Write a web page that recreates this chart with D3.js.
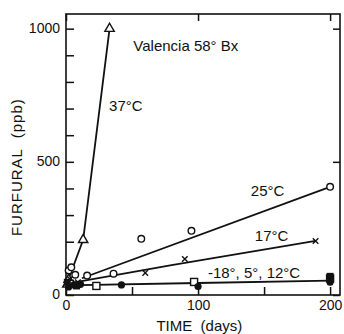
<!DOCTYPE html>
<html>
<head>
<meta charset="utf-8">
<script src="https://cdn.jsdelivr.net/npm/d3@7"></script>
<style>
body { margin: 0; background: #fff; }
text { font-family: "Liberation Sans", Arial, sans-serif; fill: #111; }
</style>
</head>
<body>
<svg></svg>
<script>
// readings from the figure: [days, ppb]
const tri37 = [[1, 40], [2, 58], [13, 207], [33, 1000]];
const fit37 = [[0, 28], [1, 49], [4.5, 94], [13, 207], [33, 1000]];
const circ25 = [[2, 92], [4, 104], [7, 76], [16, 73], [36, 80], [57, 211], [95, 241], [200, 406]];
const fit25 = [[12, 63], [200, 406]];
const cross17 = [[3, 60], [9, 48], [60, 83], [90, 135], [189, 203]];
const fit17 = [[0, 42], [80, 112], [189, 203]];
const sqOpen = [[3, 42], [23, 34], [97, 49], [200, 62]];
const dotFill = [[2, 30], [6, 38], [11, 40], [42, 38], [100, 32], [200, 48]];
const sqFill = [[1, 48], [8, 34], [200, 70]];
const fitLow = [[0, 36], [100, 45], [200, 54]];

const xMajor = [0, 100, 200];
const xMinor = [50, 150];
const yMajor = [0, 500, 1000];
const yMinor = [100, 200, 300, 400, 600, 700, 800, 900];

// text labels anchored at [days, ppb]
const notes = [
	{ t: "Valencia 58° Bx", d: 51, v: 931 },
	{ t: "37°C", d: 32.6, v: 706 },
	{ t: "25°C", d: 140, v: 387 },
	{ t: "17°C", d: 143, v: 218 },
	{ t: "-18°, 5°, 12°C", d: 107.5, v: 79 },
];

const margin = { t: 14, r: 4, b: 39, l: 66 };
const size = { w: 344, h: 334 };
const w = size.w - margin.l - margin.r;
const h = size.h - margin.t - margin.b;

const svg = d3.select("svg").attr("width", size.w).attr("height", size.h);
const g = svg.append("g").attr("transform", `translate(${margin.l},${margin.t})`);

const x = d3.scaleLinear().domain([0, 207.5]).range([0, w]);
const y = d3.scaleLinear().domain([0, 1055]).range([h, 0]);

// frame
g.append("rect")
	.attr("width", w).attr("height", h)
	.attr("fill", "none").attr("stroke", "#111").attr("stroke-width", 1.6);

// axes, ticks pointing in
const bottom = g.append("g").attr("transform", `translate(0,${h})`)
	.call(d3.axisBottom(x).tickValues(xMajor.concat(xMinor)).tickSize(-8).tickPadding(5)
		.tickFormat((d) => (xMajor.includes(d) ? d : "")));
const left = g.append("g")
	.call(d3.axisLeft(y).tickValues(yMajor.concat(yMinor)).tickSize(-8).tickPadding(6)
		.tickFormat((d) => (yMajor.includes(d) ? d : "")));
g.append("g").call(d3.axisTop(x).tickValues(xMajor).tickSize(-7).tickFormat(""));
g.append("g").attr("transform", `translate(${w},0)`)
	.call(d3.axisRight(y).tickValues(yMajor).tickSize(-7).tickFormat(""));

g.selectAll(".domain").remove();
g.selectAll(".tick line").attr("stroke", "#111").attr("stroke-width", 1.5);
g.selectAll(".tick text").attr("font-size", 14).attr("fill", "#111");
left.selectAll(".tick text").attr("dy", "0.25em");

// axis titles
svg.append("text")
	.attr("x", margin.l + x(101)).attr("y", 327)
	.attr("text-anchor", "middle").attr("dominant-baseline", "middle")
	.attr("font-size", 15).style("white-space", "pre")
	.text("TIME  (days)");
svg.append("text")
	.attr("transform", `translate(18,${margin.t + y(480)}) rotate(-90)`)
	.attr("text-anchor", "middle").attr("dominant-baseline", "middle")
	.attr("font-size", 15).attr("letter-spacing", 1).style("white-space", "pre")
	.text("FURFURAL  (ppb)");

// fitted lines
const line = d3.line().x((d) => x(d[0])).y((d) => y(d[1]));
[fit37, fit25, fit17, fitLow].forEach((f) => {
	g.append("path").attr("d", line(f))
		.attr("fill", "none").attr("stroke", "#111").attr("stroke-width", 1.8);
});

// markers
const pts = g.append("g");
pts.selectAll("circle.open").data(circ25).join("circle").attr("class", "open")
	.attr("cx", (d) => x(d[0])).attr("cy", (d) => y(d[1])).attr("r", 3.3)
	.attr("fill", "#fff").attr("stroke", "#111").attr("stroke-width", 1.4);
pts.selectAll("path.tri").data(tri37).join("path").attr("class", "tri")
	.attr("d", d3.symbol(d3.symbolTriangle, 38))
	.attr("transform", (d) => `translate(${x(d[0])},${y(d[1])})`)
	.attr("fill", "#fff").attr("stroke", "#111").attr("stroke-width", 1.4);
pts.selectAll("path.cross").data(cross17).join("path").attr("class", "cross")
	.attr("d", d3.symbol(d3.symbolX, 22))
	.attr("transform", (d) => `translate(${x(d[0])},${y(d[1])})`)
	.attr("fill", "none").attr("stroke", "#111").attr("stroke-width", 1.4);
pts.selectAll("rect.sq").data(sqOpen).join("rect").attr("class", "sq")
	.attr("x", (d) => x(d[0]) - 3.5).attr("y", (d) => y(d[1]) - 3.5)
	.attr("width", 7).attr("height", 7)
	.attr("fill", "#fff").attr("stroke", "#111").attr("stroke-width", 1.4);
pts.selectAll("rect.sqf").data(sqFill).join("rect").attr("class", "sqf")
	.attr("x", (d) => x(d[0]) - 3.5).attr("y", (d) => y(d[1]) - 3.5)
	.attr("width", 7).attr("height", 7).attr("fill", "#111");
pts.selectAll("circle.dot").data(dotFill).join("circle").attr("class", "dot")
	.attr("cx", (d) => x(d[0])).attr("cy", (d) => y(d[1])).attr("r", 3.6)
	.attr("fill", "#111");

// annotations
g.selectAll("text.note").data(notes).join("text").attr("class", "note")
	.attr("x", (d) => x(d.d)).attr("y", (d) => y(d.v))
	.attr("dominant-baseline", "middle").attr("font-size", 15)
	.text((d) => d.t);
</script>
</body>
</html>
